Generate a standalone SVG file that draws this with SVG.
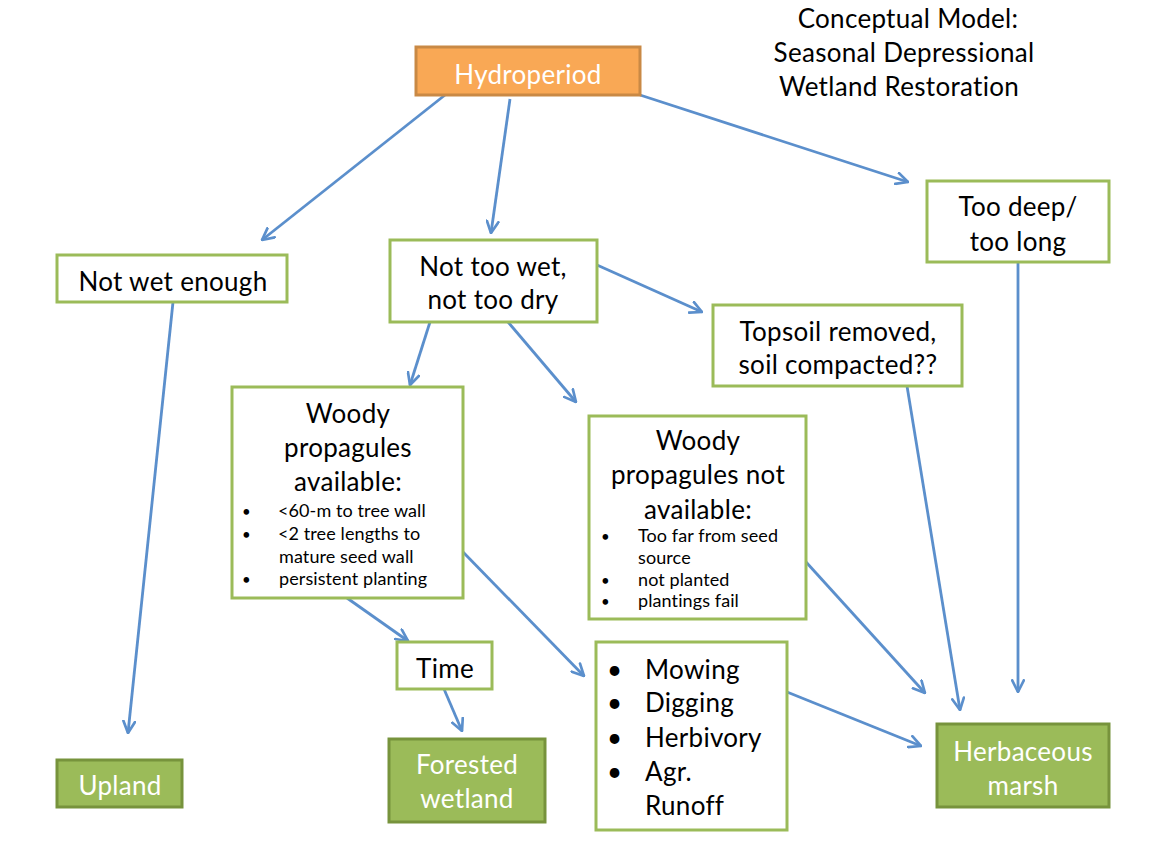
<svg xmlns="http://www.w3.org/2000/svg" width="1155" height="844" viewBox="0 0 1155 844">
<defs>
<style>
.t{font-family:Lato,"Open Sans","Liberation Sans",sans-serif;font-size:26px;letter-spacing:0.3px;fill:#000;text-anchor:middle}
.tw{font-family:Lato,"Open Sans","Liberation Sans",sans-serif;font-size:26px;letter-spacing:0.3px;fill:#fff;text-anchor:middle}
.s{font-family:Lato,"Open Sans","Liberation Sans",sans-serif;font-size:18px;letter-spacing:0.1px;fill:#000}
.d{font-family:Lato,"Open Sans","Liberation Sans",sans-serif;font-size:15px;fill:#000}
.b{font-family:Lato,"Open Sans","Liberation Sans",sans-serif;font-size:26px;letter-spacing:0.3px;fill:#000}
.box{fill:#fff;stroke:#9BBB59;stroke-width:3}
.gbox{fill:#9BBB59;stroke:#77933C;stroke-width:3}
.obox{fill:#F9A855;stroke:#C98945;stroke-width:3}
.c line{stroke:#5B8FCC;stroke-width:2.8;fill:none;marker-end:url(#ah)}
</style>
<marker id="ah" viewBox="0 0 12 12" refX="11" refY="6" markerWidth="14" markerHeight="14" markerUnits="userSpaceOnUse" orient="auto">
<path d="M1,1 L11,6 L1,11" fill="none" stroke="#5B8FCC" stroke-width="2.3" stroke-linejoin="round" stroke-linecap="round"/>
</marker>
</defs>
<rect width="1155" height="844" fill="#fff"/>

<g id="title">
<text class="t" x="908" y="28">Conceptual Model:</text>
<text class="t" x="904" y="62">Seasonal Depressional</text>
<text class="t" x="899" y="96">Wetland Restoration</text>
</g>

<g class="c" id="connectors">
<line x1="445" y1="95" x2="262" y2="240"/>
<line x1="510" y1="99" x2="491" y2="233"/>
<line x1="640" y1="95" x2="908" y2="182"/>
<line x1="173" y1="302" x2="128" y2="733"/>
<line x1="597" y1="265" x2="702" y2="312"/>
<line x1="430" y1="322" x2="410" y2="385"/>
<line x1="508" y1="322" x2="576" y2="402"/>
<line x1="1018" y1="262" x2="1018" y2="692"/>
<line x1="907" y1="386" x2="960" y2="710"/>
<line x1="806" y1="562" x2="925" y2="693"/>
<line x1="463" y1="552" x2="584" y2="676"/>
<line x1="347" y1="598" x2="408" y2="641"/>
<line x1="444" y1="689" x2="462" y2="731"/>
<line x1="787" y1="692" x2="921" y2="746"/>
</g>

<g id="hydroperiod">
<rect class="obox" x="416" y="47" width="224" height="48"/>
<text class="tw" x="528" y="84">Hydroperiod</text>
</g>

<g id="not-wet-enough">
<rect class="box" x="57" y="255" width="230" height="47"/>
<text class="t" x="173" y="291">Not wet enough</text>
</g>

<g id="not-too-wet">
<rect class="box" x="390" y="240" width="207" height="82"/>
<text class="t" x="493" y="276">Not too wet,</text>
<text class="t" x="493" y="309">not too dry</text>
</g>

<g id="too-deep">
<rect class="box" x="927" y="181" width="182" height="81"/>
<text class="t" x="1018" y="216">Too deep/</text>
<text class="t" x="1018" y="251">too long</text>
</g>

<g id="topsoil">
<rect class="box" x="713" y="305" width="249" height="81"/>
<text class="t" x="838" y="341">Topsoil removed,</text>
<text class="t" x="838" y="374">soil compacted??</text>
</g>

<g id="woody-available">
<rect class="box" x="232" y="387" width="231" height="211"/>
<text class="t" x="348" y="423">Woody</text>
<text class="t" x="348" y="457">propagules</text>
<text class="t" x="348" y="491">available:</text>
<text class="d" x="242" y="517">•</text>
<text class="s" x="278" y="517">&lt;60-m to tree wall</text>
<text class="d" x="242" y="540">•</text>
<text class="s" x="278" y="540">&lt;2 tree lengths to</text>
<text class="s" x="279" y="563">mature seed wall</text>
<text class="d" x="242" y="585">•</text>
<text class="s" x="279" y="585">persistent planting</text>
</g>

<g id="woody-not-available">
<rect class="box" x="589" y="416" width="217" height="203"/>
<text class="t" x="698" y="450">Woody</text>
<text class="t" x="698" y="484">propagules not</text>
<text class="t" x="698" y="519">available:</text>
<text class="d" x="601" y="542">•</text>
<text class="s" x="638" y="542">Too far from seed</text>
<text class="s" x="638" y="564">source</text>
<text class="d" x="601" y="586">•</text>
<text class="s" x="638" y="586">not planted</text>
<text class="d" x="601" y="607">•</text>
<text class="s" x="638" y="607">plantings fail</text>
</g>

<g id="disturbances">
<rect class="box" x="596" y="642" width="191" height="188"/>
<text class="b" x="607" y="679">•</text>
<text class="b" x="645" y="679">Mowing</text>
<text class="b" x="607" y="712">•</text>
<text class="b" x="645" y="712">Digging</text>
<text class="b" x="607" y="747">•</text>
<text class="b" x="645" y="747">Herbivory</text>
<text class="b" x="607" y="781">•</text>
<text class="b" x="645" y="781">Agr.</text>
<text class="b" x="645" y="815">Runoff</text>
</g>

<g id="time">
<rect class="box" x="397" y="642" width="95" height="47"/>
<text class="t" x="445" y="678">Time</text>
</g>

<g id="upland">
<rect class="gbox" x="57" y="760" width="125" height="47"/>
<text class="tw" x="120" y="795">Upland</text>
</g>

<g id="forested-wetland">
<rect class="gbox" x="389" y="739" width="156" height="83"/>
<text class="tw" x="467" y="774">Forested</text>
<text class="tw" x="467" y="808">wetland</text>
</g>

<g id="herbaceous-marsh">
<rect class="gbox" x="937" y="724" width="172" height="83"/>
<text class="tw" x="1023" y="761">Herbaceous</text>
<text class="tw" x="1023" y="795">marsh</text>
</g>
</svg>
